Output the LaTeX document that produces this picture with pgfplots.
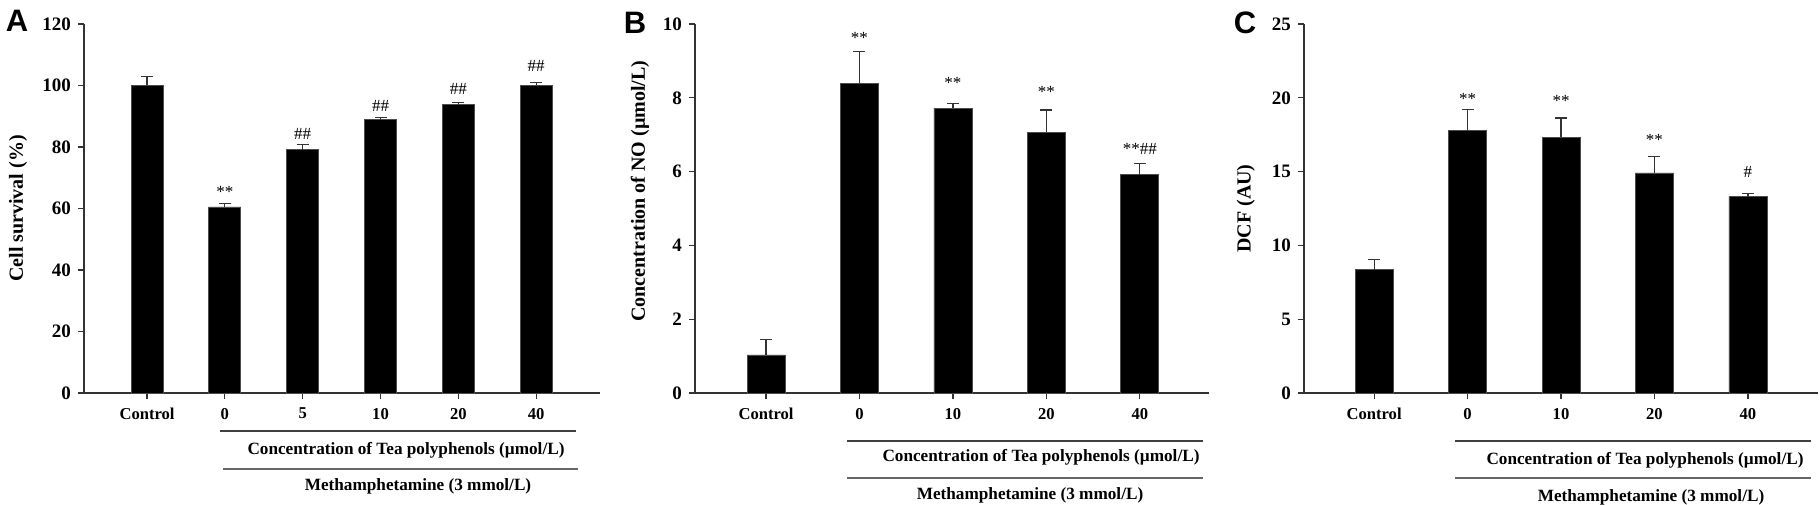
\documentclass[border=0pt]{standalone}
\usepackage{fontspec}
\setmainfont{Liberation Serif}
\setsansfont{Liberation Sans}
\usepackage{pgfplots}
\usepackage{pgfplotstable}
\pgfplotsset{compat=1.18}

\pgfplotstableread{
x y e
0 100.0 3.0
1 60.5 1.0
2 79.1 1.6
3 88.9 0.6
4 93.7 0.8
5 100.0 1.0
}\dataA
\pgfplotstableread{
x y e
0 1.03 0.42
1 8.39 0.86
2 7.72 0.12
3 7.06 0.61
4 5.92 0.29
}\dataB
\pgfplotstableread{
x y e
0 8.36 0.70
1 17.77 1.46
2 17.34 1.29
3 14.91 1.13
4 13.31 0.23
}\dataC

\pgfplotsset{
  panel/.style={
    scale only axis, height=184.5pt, anchor=south west,
    axis lines*=left,
    axis line style={black!80, line width=0.6pt},
    tick style={black!80, line width=0.6pt},
    tick align=outside, major tick length=3pt,
    ymin=0, clip=false,
    /pgf/number format/assume math mode=true,
    yticklabel style={font=\fontsize{9.5}{10}\selectfont\bfseries},
    xticklabel style={font=\fontsize{8.3}{9}\selectfont\bfseries, yshift=-1pt},
    every axis y label/.style={rotate=90, anchor=center, font=\fontsize{10}{12}\selectfont\bfseries},
  },
  bars/.style={
    ybar, bar width=#1, fill=black, draw=black!70, line width=0.4pt,
    error bars/.cd, y dir=plus, y explicit,
    error bar style={black!80, line width=0.6pt},
    error mark options={black!80, rotate=90, mark size=3pt, line width=0.6pt},
  },
  notes/.style={
    draw=none, nodes near coords, point meta=explicit symbolic,
    nodes near coords style={anchor=base, inner sep=0pt, font=\fontsize{8.5}{9}\selectfont},
  },
}

\begin{document}
\begin{tikzpicture}
\path[use as bounding box] (0,0) rectangle (910pt,252pt);

% Panel A
\begin{axis}[panel, at={(42pt,55.5pt)}, width=258pt,
  xmin=-0.81, xmax=5.82, ymax=120, ytick={0,20,...,120},
  xtick={0,...,5}, xticklabels={Control,0,5,10,20,40},
  ylabel={Cell survival (\%)},
  every axis y label/.append style={at={(rel axis cs:-0.128,0.5)}}]
\addplot[bars=16pt] table[x=x, y=y, y error=e] {\dataA};
\addplot[notes] coordinates {(1,63.5) [**] (2,82.4) [\#\#] (3,91.6) [\#\#] (4,97.2) [\#\#] (5,104.7) [\#\#]};
\end{axis}

% Panel B
\begin{axis}[panel, at={(347.5pt,55.5pt)}, width=257pt,
  xmin=-0.76, xmax=4.74, ymax=10, ytick={0,2,...,10},
  xtick={0,...,4}, xticklabels={Control,0,10,20,40},
  ylabel={Concentration of NO (µmol/L)},
  every axis y label/.append style={at={(rel axis cs:-0.107,0.547)}}]
\addplot[bars=19pt] table[x=x, y=y, y error=e] {\dataB};
\addplot[notes] coordinates {(1,9.48) [**] (2,8.25) [**] (3,8.01) [**] (4,6.47) [**\#\#]};
\end{axis}

% Panel C
\begin{axis}[panel, at={(652pt,55.5pt)}, width=257pt,
  xmin=-0.75, xmax=4.75, ymax=25, ytick={0,5,...,25},
  xtick={0,...,4}, xticklabels={Control,0,10,20,40},
  ylabel={DCF (AU)},
  every axis y label/.append style={at={(rel axis cs:-0.113,0.5)}}]
\addplot[bars=19pt] table[x=x, y=y, y error=e] {\dataC};
\addplot[notes] coordinates {(1,19.57) [**] (2,19.4) [**] (3,16.76) [**] (4,14.59) [\#]};
\end{axis}

% panel letters
\begin{scope}[every node/.style={font=\fontsize{15.5}{16}\selectfont\sffamily\bfseries, inner sep=0pt}]
\node at (8.5pt,241.5pt) {A};
\node at (317.5pt,240.5pt) {B};
\node at (622.5pt,240.5pt) {C};
\end{scope}

% group labels under the axes
\begin{scope}[every node/.style={font=\fontsize{8.6}{9}\selectfont\bfseries, inner sep=0pt}]
\draw[black!75, line width=0.6pt] (110pt,36.5pt) -- (288pt,36.5pt);
\draw[black!60, line width=0.6pt] (111.5pt,17.5pt) -- (289pt,17.5pt);
\node at (203pt,27pt) {Concentration of Tea polyphenols (µmol/L)};
\node at (209pt,9pt) {Methamphetamine (3 mmol/L)};

\draw[black!75, line width=0.6pt] (423.5pt,31.5pt) -- (601.5pt,31.5pt);
\draw[black!60, line width=0.6pt] (423.5pt,13pt) -- (601.5pt,13pt);
\node at (520.5pt,23.5pt) {Concentration of Tea polyphenols (µmol/L)};
\node at (515pt,4.5pt) {Methamphetamine (3 mmol/L)};

\draw[black!75, line width=0.6pt] (727.5pt,31.5pt) -- (905.5pt,31.5pt);
\draw[black!60, line width=0.6pt] (727.5pt,13pt) -- (905.5pt,13pt);
\node at (822.5pt,22pt) {Concentration of Tea polyphenols (µmol/L)};
\node at (825.5pt,3.5pt) {Methamphetamine (3 mmol/L)};
\end{scope}
\end{tikzpicture}
\end{document}
